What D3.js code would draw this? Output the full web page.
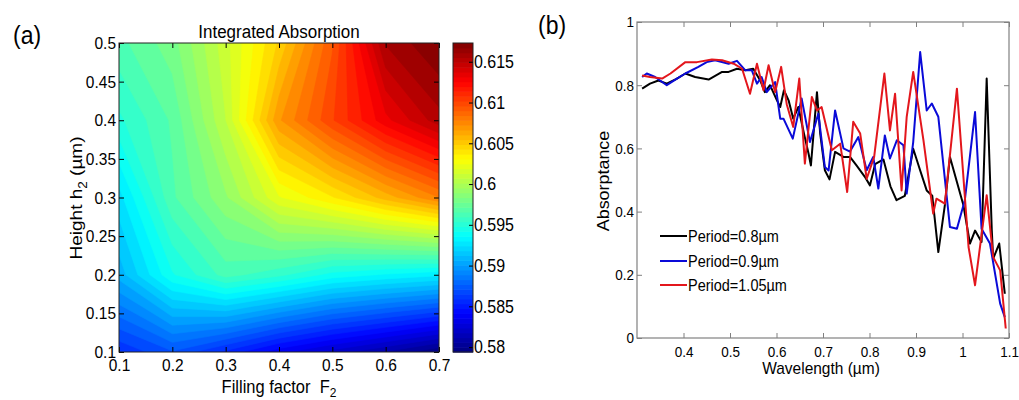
<!DOCTYPE html>
<html>
<head>
<meta charset="utf-8">
<script src="https://cdn.jsdelivr.net/npm/d3@7"></script>
<style>
  html, body { margin: 0; padding: 0; background: #fff; }
  svg { display: block; font-family: Arial, "Liberation Sans", Helvetica, sans-serif; }
</style>
</head>
<body>
<div id="chart"></div>
<script>
// Panel (a): integrated absorption on the F2 x h2 grid
const fillFactors = [0.1, 0.2, 0.3, 0.4, 0.5, 0.6, 0.7];
const heights = [0.1, 0.2, 0.3, 0.4, 0.5];
const absH01 = [0.5858, 0.5872, 0.5855, 0.5836, 0.5822, 0.5809, 0.5794];
const absH02 = [0.5908, 0.5943, 0.5963, 0.5954, 0.5941, 0.5935, 0.5930];
const absH03 = [0.5925, 0.5966, 0.5990, 0.6022, 0.6038, 0.6058, 0.6078];
const absH04 = [0.5950, 0.5969, 0.6007, 0.6069, 0.6101, 0.6131, 0.6154];
const absH05 = [0.5965, 0.5980, 0.6012, 0.6048, 0.6093, 0.6158, 0.6173];
const xTicksA = [0.1, 0.2, 0.3, 0.4, 0.5, 0.6, 0.7];
const yTicksA = [0.1, 0.15, 0.2, 0.25, 0.3, 0.35, 0.4, 0.45, 0.5];
const cbTicks = [0.58, 0.585, 0.59, 0.595, 0.6, 0.605, 0.61, 0.615];

// Panel (b): absorptance spectra
const wlP08 = [0.311,0.328,0.346,0.364,0.385,0.404,0.425,0.454,0.483,0.497,0.515,0.533,0.550,0.565,0.575,0.586,0.601,0.608,0.616,0.626,0.636,0.647,0.659,0.669,0.674,0.687,0.694,0.704,0.714,0.726,0.744,0.758,0.772,0.790,0.801,0.812,0.830,0.845,0.858,0.876,0.894,0.909,0.923,0.935,0.948,0.962,0.973,0.988,1.002,1.016,1.027,1.041,1.052,1.063,1.066,1.079,1.091];
const absP08 = [0.789,0.805,0.815,0.805,0.820,0.837,0.826,0.818,0.842,0.842,0.852,0.847,0.852,0.815,0.778,0.800,0.752,0.731,0.784,0.752,0.694,0.731,0.647,0.583,0.546,0.778,0.647,0.531,0.502,0.589,0.573,0.573,0.546,0.510,0.483,0.550,0.565,0.480,0.436,0.450,0.599,0.530,0.467,0.450,0.272,0.420,0.573,0.494,0.420,0.299,0.340,0.304,0.821,0.340,0.251,0.299,0.140];
const wlP09 = [0.311,0.321,0.339,0.364,0.385,0.404,0.432,0.450,0.468,0.497,0.515,0.533,0.547,0.558,0.568,0.579,0.597,0.608,0.615,0.635,0.654,0.672,0.690,0.704,0.712,0.726,0.744,0.758,0.776,0.794,0.808,0.819,0.833,0.844,0.859,0.873,0.880,0.894,0.909,0.923,0.934,0.948,0.973,0.988,1.005,1.027,1.041,1.059,1.081,1.091];
const absP09 = [0.826,0.837,0.826,0.800,0.820,0.837,0.858,0.873,0.879,0.868,0.877,0.847,0.847,0.805,0.826,0.778,0.810,0.694,0.694,0.631,0.758,0.620,0.710,0.541,0.530,0.720,0.600,0.590,0.636,0.531,0.573,0.473,0.641,0.568,0.626,0.610,0.457,0.620,0.905,0.720,0.742,0.700,0.351,0.346,0.436,0.715,0.346,0.299,0.109,0.066];
const wlP105 = [0.311,0.328,0.354,0.372,0.404,0.429,0.461,0.483,0.508,0.526,0.543,0.558,0.572,0.583,0.597,0.610,0.622,0.636,0.649,0.661,0.676,0.687,0.697,0.719,0.737,0.752,0.765,0.780,0.794,0.810,0.832,0.844,0.855,0.869,0.880,0.894,0.916,0.937,0.944,0.962,0.988,1.013,1.027,1.052,1.066,1.081,1.093];
const absP105 = [0.831,0.826,0.821,0.837,0.873,0.873,0.881,0.879,0.868,0.852,0.773,0.868,0.784,0.863,0.778,0.858,0.740,0.668,0.821,0.552,0.763,0.720,0.731,0.594,0.615,0.462,0.684,0.647,0.504,0.573,0.837,0.657,0.773,0.467,0.700,0.842,0.626,0.394,0.441,0.425,0.789,0.288,0.167,0.452,0.256,0.214,0.030];
const xTicksB = [0.4, 0.5, 0.6, 0.7, 0.8, 0.9, 1, 1.1];
const yTicksB = [0, 0.2, 0.4, 0.6, 0.8, 1];
const seriesNames = ["Period=0.8\u00b5m", "Period=0.9\u00b5m", "Period=1.05\u00b5m"];
const seriesColors = ["#000000", "#0a0ad8", "#e3161c"];

const stretch = 1.12;

// Colormap jet como en MATLAB
function jet(t) {
    const c = v => Math.max(0, Math.min(1, v));
    const r = c(Math.min(4 * t - 1.5, -4 * t + 4.5));
    const g = c(Math.min(4 * t - 0.5, -4 * t + 3.5));
    const b = c(Math.min(4 * t + 0.5, -4 * t + 2.5));
    return d3.rgb(r * 255, g * 255, b * 255).toString();
}

function addText(g, x, y, str, size, anchor, rotate) {
    return g.append("text")
        .attr("transform", `translate(${x},${y}) scale(1,${stretch})` + (rotate ? ` rotate(${rotate})` : ""))
        .attr("font-size", size)
        .attr("text-anchor", anchor || "start")
        .attr("fill", "#000")
        .text(str);
}

const svg = d3.select("#chart")
    .append("svg")
    .attr("width", 1019)
    .attr("height", 400);

// ---------- Panel (a) ----------
const xA = d3.scaleLinear().domain([0.1, 0.7]).range([119, 439]);
const yA = d3.scaleLinear().domain([0.1, 0.5]).range([352, 43]);

svg.append("clipPath").attr("id", "clipA")
    .append("rect")
    .attr("x", xA(0.1)).attr("y", yA(0.5))
    .attr("width", xA(0.7) - xA(0.1)).attr("height", yA(0.1) - yA(0.5));

const grid = [absH01, absH02, absH03, absH04, absH05];
const nx = fillFactors.length, ny = heights.length;
const values = grid.flat();
const vmin = d3.min(values), vmax = d3.max(values);
const nLevels = 48;
const levels = d3.range(nLevels).map(k => vmin + k * (vmax - vmin) / nLevels);

// d3.contours pone el valor i en la coordenada i + 0.5
const stepF = fillFactors[1] - fillFactors[0];
const stepH = heights[1] - heights[0];
const toScreen = d3.geoTransform({
    point(px, py) {
        this.stream.point(xA(fillFactors[0] + (px - 0.5) * stepF), yA(heights[0] + (py - 0.5) * stepH));
    }
});
const contourPath = d3.geoPath(toScreen);
const contours = d3.contours().size([nx, ny]).thresholds(levels)(values);

svg.append("g")
    .attr("clip-path", "url(#clipA)")
    .selectAll("path")
    .data(contours)
    .enter()
    .append("path")
    .attr("d", contourPath)
    .attr("fill", (d, i) => jet((i + 0.5) / nLevels))
    .attr("stroke", (d, i) => jet((i + 0.5) / nLevels))
    .attr("stroke-width", 0.6);

function styleAxis(g, color, size) {
    g.select(".domain").remove();
    g.selectAll(".tick line").attr("stroke", color);
    g.selectAll(".tick text")
        .attr("fill", "#000")
        .attr("font-size", size)
        .attr("font-family", "Arial, 'Liberation Sans', sans-serif")
        .attr("transform", `scale(1,${stretch})`);
}

svg.append("g")
    .attr("transform", `translate(0,${yA(0.1)})`)
    .call(d3.axisBottom(xA).tickValues(xTicksA).tickSize(-5).tickPadding(6).tickFormat(d => String(d)))
    .call(g => styleAxis(g, "#000", 15.5));
svg.append("g")
    .attr("transform", `translate(0,${yA(0.5)})`)
    .call(d3.axisTop(xA).tickValues(xTicksA).tickSize(-5).tickFormat(""))
    .call(g => styleAxis(g, "#000", 16));
svg.append("g")
    .attr("transform", `translate(${xA(0.1)},0)`)
    .call(d3.axisLeft(yA).tickValues(yTicksA).tickSize(-5).tickPadding(3).tickFormat(d => String(d)))
    .call(g => styleAxis(g, "#000", 15.5));
svg.append("g")
    .attr("transform", `translate(${xA(0.7)},0)`)
    .call(d3.axisRight(yA).tickValues(yTicksA).tickSize(-5).tickFormat(""))
    .call(g => styleAxis(g, "#000", 16));

svg.append("rect")
    .attr("x", xA(0.1)).attr("y", yA(0.5))
    .attr("width", xA(0.7) - xA(0.1)).attr("height", yA(0.1) - yA(0.5))
    .attr("fill", "none").attr("stroke", "#222").attr("stroke-width", 1);

// Barra de color
const cbScale = d3.scaleLinear().domain([vmin, vmax]).range([352, 43]);
const cbX = 453, cbW = 20, nCb = 64;
svg.append("g").selectAll("rect")
    .data(d3.range(nCb))
    .enter()
    .append("rect")
    .attr("x", cbX)
    .attr("y", k => cbScale(vmin + (k + 1) * (vmax - vmin) / nCb))
    .attr("width", cbW)
    .attr("height", k => cbScale(vmin + k * (vmax - vmin) / nCb) - cbScale(vmin + (k + 1) * (vmax - vmin) / nCb) + 0.6)
    .attr("fill", k => jet((k + 0.5) / nCb));
svg.append("g")
    .attr("transform", `translate(${cbX + cbW},0)`)
    .call(d3.axisRight(cbScale).tickValues(cbTicks).tickSize(-4).tickPadding(1).tickFormat(d => String(d)))
    .call(g => styleAxis(g, "#000", 16));
svg.append("rect")
    .attr("x", cbX).attr("y", cbScale(vmax))
    .attr("width", cbW).attr("height", cbScale(vmin) - cbScale(vmax))
    .attr("fill", "none").attr("stroke", "#222").attr("stroke-width", 1);

// Textos del panel (a)
addText(svg, 13, 44, "(a)", 23);
addText(svg, 279, 38, "Integrated Absorption", 17, "middle");
const xLab = addText(svg, 279, 393, "Filling factor\u00a0\u00a0F", 16.5, "middle");
xLab.append("tspan").attr("font-size", 12).attr("dy", 4).text("2");
const yLab = addText(svg, 82, 198, "Height h", 17, "middle", -90);
yLab.append("tspan").attr("font-size", 12).attr("dy", 5).text("2");
yLab.append("tspan").attr("dy", -5).text(" (\u00b5m)");

// ---------- Panel (b) ----------
const xB = d3.scaleLinear().domain([0.3, 1.1]).range([637, 1009]);
const yB = d3.scaleLinear().domain([0, 1]).range([338, 22]);

svg.append("g")
    .attr("transform", `translate(0,${yB(0)})`)
    .call(d3.axisBottom(xB).tickValues(xTicksB).tickSize(-5).tickPadding(7).tickFormat(d => String(d)))
    .call(g => styleAxis(g, "#808080", 13.5));
svg.append("g")
    .attr("transform", `translate(0,${yB(1)})`)
    .call(d3.axisTop(xB).tickValues(xTicksB).tickSize(-5).tickFormat(""))
    .call(g => styleAxis(g, "#808080", 13.5));
svg.append("g")
    .attr("transform", `translate(${xB(0.3)},0)`)
    .call(d3.axisLeft(yB).tickValues(yTicksB).tickSize(-5).tickPadding(3).tickFormat(d => String(d)))
    .call(g => styleAxis(g, "#808080", 13.5));
svg.append("g")
    .attr("transform", `translate(${xB(1.1)},0)`)
    .call(d3.axisRight(yB).tickValues(yTicksB).tickSize(-5).tickFormat(""))
    .call(g => styleAxis(g, "#808080", 13.5));
svg.append("rect")
    .attr("x", xB(0.3)).attr("y", yB(1))
    .attr("width", xB(1.1) - xB(0.3)).attr("height", yB(0) - yB(1))
    .attr("fill", "none").attr("stroke", "#808080").attr("stroke-width", 1.2);

// Curvas
const series = [
    { wl: wlP08, ab: absP08 },
    { wl: wlP09, ab: absP09 },
    { wl: wlP105, ab: absP105 }
];
const line = d3.line().x(d => xB(d[0])).y(d => yB(d[1]));
svg.append("g").selectAll("path")
    .data(series)
    .enter()
    .append("path")
    .attr("d", s => line(s.wl.map((w, i) => [w, s.ab[i]])))
    .attr("fill", "none")
    .attr("stroke", (s, i) => seriesColors[i])
    .attr("stroke-width", 2)
    .attr("stroke-linejoin", "round");

// Leyenda
const legendY = [236, 261, 285];
const legend = svg.append("g").selectAll("g")
    .data(seriesNames)
    .enter()
    .append("g");
legend.append("line")
    .attr("x1", 660).attr("x2", 687)
    .attr("y1", (d, i) => legendY[i]).attr("y2", (d, i) => legendY[i])
    .attr("stroke", (d, i) => seriesColors[i])
    .attr("stroke-width", 2);
legend.each(function(d, i) {
    addText(d3.select(this), 688, legendY[i] + 5.5, d, 14.5);
});

// Textos del panel (b)
addText(svg, 538, 34, "(b)", 23);
addText(svg, 821, 374, "Wavelength (\u00b5m)", 15.5, "middle");
addText(svg, 609, 181, "Absorptance", 16, "middle", -90);
</script>
</body>
</html>
